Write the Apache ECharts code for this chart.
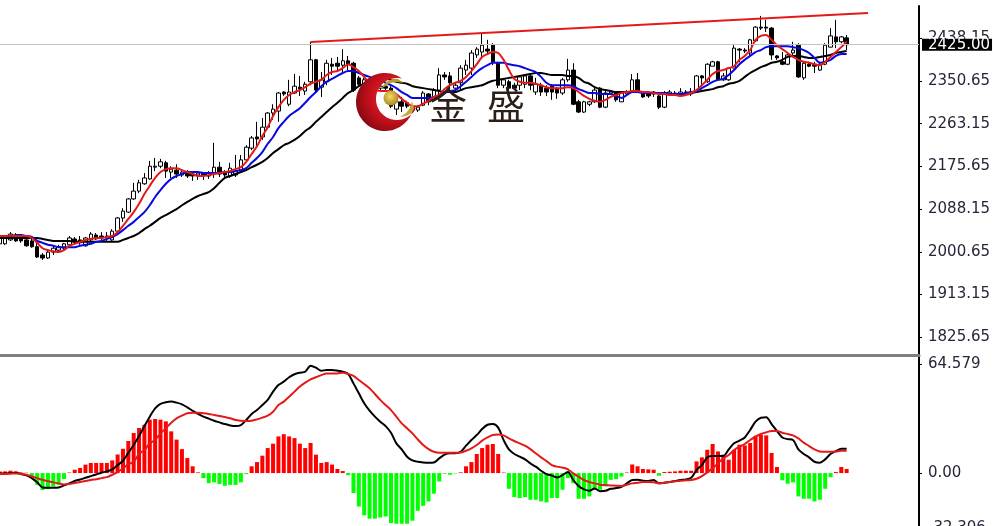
<!DOCTYPE html>
<html><head><meta charset="utf-8">
<style>html,body{margin:0;padding:0;background:#fff;overflow:hidden}#c{width:993px;height:526px}</style>
<script src="https://cdn.jsdelivr.net/npm/echarts@6/dist/echarts.min.js"></script>
</head><body><div id="c"></div>
<script>
const categories = Array.from({length:172},(_,i)=>String(i));
const priceTicks = [1825.65,1913.15,2000.65,2088.15,2175.65,2263.15,2350.65,2438.15];
const macdTicks = [-32.306,0,64.579];
const lastPrice = 2425;
const trendStart = [58,2430.6];
const trendEnd = [162,2490];
// [open, close, low, high]
const candles = [
[2017,2031,2015,2033],[2017,2031,2015,2034],[2025,2037,2023,2041],[2029,2023,2021,2039],[2027,2023,2019,2033],[2025,2013,2011,2029],[2023,2011,2009,2029],[2011,1990,1988,2025],[1994,1988,1984,1998],[1988,2000,1986,2004],
[2000,2008,1994,2013],[2004,2011,2002,2015],[2008,2017,2004,2019],[2015,2029,2013,2033],[2027,2021,2019,2031],[2025,2019,2015,2033],[2013,2029,2011,2031],[2025,2037,2023,2041],[2035,2027,2025,2039],[2033,2029,2025,2041],
[2029,2033,2023,2041],[2025,2043,2023,2047],[2043,2070,2039,2072],[2070,2084,2062,2090],[2082,2109,2080,2111],[2109,2125,2107,2142],[2125,2142,2121,2148],[2140,2152,2138,2162],[2150,2176,2148,2187],[2174,2176,2166,2193],
[2176,2185,2172,2191],[2183,2166,2152,2187],[2164,2170,2152,2176],[2168,2160,2152,2180],[2158,2164,2154,2168],[2164,2156,2152,2168],[2160,2156,2146,2164],[2158,2162,2148,2166],[2162,2158,2148,2164],[2156,2162,2150,2166],
[2162,2174,2152,2224],[2174,2160,2154,2185],[2162,2158,2154,2168],[2156,2172,2152,2183],[2158,2166,2154,2199],[2166,2189,2162,2199],[2189,2215,2185,2219],[2213,2234,2209,2238],[2236,2232,2217,2267],[2236,2256,2230,2275],
[2256,2285,2252,2287],[2285,2293,2271,2303],[2289,2326,2267,2328],[2328,2324,2320,2330],[2303,2328,2299,2353],[2326,2340,2324,2365],[2338,2334,2320,2361],[2330,2344,2322,2349],[2349,2394,2342,2431],[2394,2332,2328,2396],
[2338,2353,2318,2369],[2349,2387,2342,2394],[2385,2381,2363,2398],[2387,2381,2369,2400],[2383,2392,2369,2416],[2392,2385,2373,2402],[2387,2332,2328,2390],[2357,2344,2340,2361],[2340,2353,2336,2357],[2347,2338,2334,2351],
[2344,2334,2328,2349],[2336,2340,2328,2344],[2340,2336,2330,2344],[2336,2299,2295,2340],[2293,2308,2281,2314],[2308,2299,2287,2318],[2306,2299,2295,2310],[2291,2297,2287,2301],[2291,2297,2287,2301],[2301,2326,2299,2330],
[2324,2308,2301,2326],[2312,2332,2308,2336],[2332,2363,2312,2377],[2363,2359,2353,2369],[2361,2347,2332,2369],[2336,2342,2332,2347],[2347,2377,2332,2383],[2373,2383,2363,2394],[2377,2408,2363,2414],[2404,2416,2398,2420],
[2410,2424,2398,2449],[2416,2412,2404,2435],[2424,2390,2383,2428],[2387,2342,2336,2390],[2342,2353,2336,2357],[2349,2336,2332,2353],[2342,2336,2332,2347],[2342,2359,2332,2363],[2344,2361,2336,2365],[2361,2342,2332,2365],
[2328,2344,2322,2357],[2342,2328,2320,2347],[2336,2328,2320,2342],[2340,2328,2312,2344],[2334,2326,2314,2338],[2326,2353,2322,2357],[2353,2373,2349,2396],[2373,2303,2301,2387],[2308,2287,2285,2312],[2287,2308,2285,2310],
[2303,2308,2299,2310],[2308,2332,2306,2338],[2336,2297,2295,2338],[2297,2326,2295,2332],[2326,2330,2322,2332],[2326,2312,2308,2330],[2308,2326,2308,2328],[2324,2328,2320,2332],[2328,2353,2326,2365],[2353,2328,2326,2367],
[2328,2318,2316,2330],[2324,2320,2316,2330],[2324,2328,2318,2330],[2320,2297,2293,2328],[2297,2326,2295,2330],[2324,2328,2322,2332],[2326,2322,2320,2330],[2324,2328,2318,2336],[2328,2324,2320,2332],[2324,2328,2320,2336],
[2328,2361,2326,2363],[2361,2357,2342,2363],[2349,2385,2347,2387],[2381,2390,2381,2392],[2390,2353,2351,2392],[2353,2361,2351,2367],[2353,2377,2351,2377],[2377,2418,2377,2424],[2416,2414,2389,2418],[2414,2412,2408,2418],
[2408,2435,2400,2437],[2433,2461,2431,2463],[2461,2459,2455,2484],[2461,2459,2451,2476],[2459,2404,2394,2461],[2402,2398,2394,2404],[2390,2385,2383,2410],[2385,2404,2383,2406],[2408,2414,2404,2431],[2424,2359,2357,2428],
[2357,2387,2353,2390],[2385,2381,2379,2390],[2385,2381,2367,2390],[2373,2385,2371,2390],[2385,2424,2383,2428],[2420,2443,2420,2459],[2441,2431,2418,2476],[2431,2441,2428,2443],[2439,2425,2414,2445]
];
const maRed = [2033,2033,2034,2033,2033,2033,2029,2019,2008,2004,2002,2000,2004,2013,2017,2021,2025,2027,2029,2029,
2031,2033,2041,2054,2068,2082,2099,2119,2136,2152,2164,2170,2172,2172,2168,2164,2160,2156,2156,2158,
2160,2162,2164,2166,2170,2174,2185,2201,2217,2238,2256,2279,2297,2312,2322,2328,2332,2338,2345,2349,
2353,2363,2369,2371,2377,2385,2379,2371,2359,2345,2334,2330,2330,2330,2324,2314,2306,2299,2299,2304,
2310,2318,2322,2334,2342,2347,2351,2359,2371,2385,2400,2406,2410,2408,2394,2373,2355,2349,2347,2347,
2345,2342,2338,2336,2336,2336,2338,2336,2328,2320,2314,2310,2308,2312,2318,2322,2326,2328,2330,2330,
2328,2328,2326,2324,2324,2322,2322,2320,2322,2326,2332,2342,2353,2365,2371,2373,2377,2381,2394,2402,
2414,2435,2443,2445,2435,2424,2416,2408,2400,2394,2390,2388,2385,2383,2390,2400,2410,2420,2431];
const maBlue = [2033,2033,2033,2035,2035,2033,2031,2023,2019,2015,2013,2010,2010,2010,2010,2013,2015,2017,2021,2023,
2027,2031,2037,2045,2054,2062,2072,2082,2096,2113,2127,2140,2150,2156,2160,2164,2164,2164,2162,2162,
2162,2162,2164,2164,2166,2168,2172,2183,2193,2205,2222,2236,2254,2267,2279,2287,2295,2306,2318,2328,
2340,2349,2355,2361,2367,2371,2371,2367,2363,2359,2355,2351,2347,2342,2336,2328,2322,2316,2316,2316,
2316,2318,2322,2326,2330,2332,2340,2349,2359,2369,2377,2383,2388,2388,2388,2385,2383,2381,2377,2373,
2369,2359,2347,2342,2342,2342,2342,2340,2334,2330,2326,2326,2324,2324,2324,2320,2316,2322,2328,2328,
2326,2326,2326,2326,2326,2324,2324,2324,2326,2328,2330,2336,2342,2349,2353,2355,2363,2373,2385,2394,
2402,2410,2414,2420,2422,2422,2422,2422,2420,2418,2414,2408,2398,2388,2390,2394,2402,2406,2406];
const maBlack = [2029,2029,2029,2029,2029,2029,2029,2029,2027,2025,2023,2023,2023,2023,2021,2021,2021,2021,2021,2021,
2021,2021,2021,2025,2029,2033,2039,2047,2054,2062,2070,2076,2082,2088,2096,2103,2109,2115,2119,2123,
2131,2142,2152,2156,2160,2164,2168,2174,2179,2185,2193,2203,2211,2219,2224,2230,2238,2248,2256,2267,
2277,2287,2297,2306,2316,2326,2332,2340,2345,2349,2353,2355,2355,2353,2349,2347,2345,2340,2338,2336,
2334,2332,2330,2328,2328,2328,2332,2336,2338,2340,2342,2347,2351,2353,2355,2357,2359,2361,2363,2365,
2367,2367,2365,2363,2363,2363,2361,2361,2357,2349,2345,2338,2334,2332,2330,2328,2328,2328,2328,2328,
2328,2326,2326,2326,2326,2324,2324,2324,2324,2326,2328,2330,2332,2334,2338,2340,2345,2347,2351,2359,
2367,2373,2379,2383,2388,2390,2394,2400,2402,2402,2400,2398,2398,2400,2402,2404,2408,2410,2412];
const macdBars = [1,1,1.4,1,0.3,0.2,-2.4,-7,-10,-9.5,-8,-7,-3.5,0.3,2,3,5,6,6,6,
6,7.5,11,14.4,19,23.7,26.7,28.6,31.6,32,31.6,30.6,24.7,19.8,14.2,8.9,4,0.4,-3,-6,
-5.5,-6.5,-7.5,-7,-7,-5.5,-0.6,4,6.5,10.3,14.8,17.4,21.7,23,21.7,20.7,17.4,14.8,17.8,10.9,
6,6.5,5,2.4,1.2,-1.2,-11.8,-19.8,-25,-27,-27,-26.3,-25.7,-29.6,-30,-30,-30,-28.2,-22.3,-19.4,
-16.8,-12.2,-5,-0.4,-1,-0.3,0.4,4,6.5,11.3,14.8,16.8,17.2,11.3,0.3,-9.3,-14.2,-14.8,-14.2,-15.8,
-15.8,-16.8,-17.4,-14.8,-14.8,-9.9,-3,-6,-15.2,-15.2,-13.8,-9.9,-9.9,-7.9,-4,-3.6,-2,0.3,5.1,4,
2.4,2.2,2,-1.6,0.6,0.8,1,1.4,1.4,1.4,6.9,9.3,13.8,17.2,12.8,10.9,7.9,13.8,16.8,16.4,
17.8,22.1,22.7,22.3,11.9,3.6,-4.3,-6.3,-5.5,-13.8,-15.2,-15.2,-16.8,-15.8,-9.3,-2.4,0.6,3.6,2.4];
const macdLine = [-0.2,-0.2,0,0.2,-0.6,-1.4,-3,-5.5,-8.5,-8.7,-8.7,-8.5,-7.3,-6.1,-4.7,-3.8,-2.8,-1.8,-0.8,0.2,
1,2.2,4.7,7.3,12,16.6,21.9,27.8,33.4,38.3,40.9,41.9,42.3,41.7,40.7,38.9,36.9,35,33.4,32.2,
31,30,29,28.2,27.8,28.4,31.4,35,37.3,40.3,43.3,48.2,52.1,54.1,56.7,58.5,59.4,60,63.6,62.4,
60.6,61,61,60.6,60,58.7,53.1,47.2,41.3,36.9,33.4,30.4,27.8,23.9,17.6,14,9.7,7.5,6.7,6.3,
6.1,6.3,8.7,10.9,11.7,11.7,12.6,16.2,19.6,22.5,26.1,28.6,29,26.9,19.6,14,11.3,9.7,8.1,5.7,
3.8,1.4,-0.6,-1.4,-2.6,-1.2,0.6,-4.1,-7.7,-9.7,-10.5,-9.1,-10.7,-10.5,-9.3,-8.9,-8.1,-6.1,-4.1,-4,
-4.5,-4.7,-4.1,-6.1,-5.7,-5.3,-4.7,-4.1,-3.8,-2.8,1.8,4.7,9.3,10.1,10.1,10.1,14,17.6,19.2,21.1,
25.5,30.4,32.8,33,29,24.9,21.1,20.1,19.6,14,11.3,9.3,6.7,6.1,8.1,11.3,13,14.4,14.4];
const signalLine = [-0.6,-0.6,-0.4,-0.2,-0.4,-1,-2,-3,-4,-4.9,-5.5,-6.1,-6.7,-6.5,-5.9,-5.3,-4.7,-4.1,-3.6,-3,
-2.4,-1,0.6,2.8,5.1,6.7,11.3,13.6,17.6,19.6,23.5,26.5,29.8,32.4,34,35.4,35.7,35.7,35.4,35,
34.4,33.8,33.2,32.4,31.4,31,30.8,31,31.8,32.8,34,36.3,40.3,42.3,45.2,48.2,51.2,53.5,55.5,56.7,
58,59,58.9,59,59.4,58.7,57.5,55.1,52.7,50.2,46.8,43.3,40.3,37.3,33.4,29.4,26.5,23.5,19.9,16.6,
14.2,12.6,12,12,12,12,12.2,13.2,14.6,16.6,19.2,21.1,22.5,22.9,22.3,20.5,19,17.6,16.2,14.2,
11.7,9.3,7.1,4.7,3.8,3.2,2.2,-0.2,-2.2,-4.1,-5.3,-6.1,-6.9,-7.1,-7.3,-7.5,-7.7,-6.9,-6.1,-5.7,
-5.3,-5.3,-5.5,-6.1,-5.7,-5.3,-4.9,-4.5,-4.3,-4.1,-3.4,-1.8,0.4,2.8,5.7,8.7,10.7,13.6,15.6,17.2,
19.6,21.5,23.1,24.1,24.9,24.9,23.9,23.1,22.3,20.5,18,16,14,12.8,12.6,12.6,12.8,13.2,13.2];

const trend = categories.map((_,i)=> i===trendStart[0]?trendStart[1]:(i===trendEnd[0]?trendEnd[1]:null));
const labelFont = {fontFamily:'DejaVu Sans',fontSize:15,color:'#26263a'};
const lineOf = (name,data,color,w,ax)=>({name,type:'line',data,xAxisIndex:ax,yAxisIndex:ax,symbol:'none',smooth:0.3,lineStyle:{color,width:w},connectNulls:true,silent:true,animation:false});

// logo artwork helpers
function arc(cx,cy,r,a0,a1,n){const p=[];for(let k=0;k<=n;k++){const a=(a0+(a1-a0)*k/n)*Math.PI/180;p.push([cx+r*Math.cos(a),cy+r*Math.sin(a)]);}return p;}
const crescentPts = arc(385,102,29,-54,-350,60).concat(arc(397,99,21,26,284,50));

const chart = echarts.init(document.getElementById('c'),null,{renderer:'canvas'});
chart.setOption({
 animation:false,
 backgroundColor:'#fff',
 grid:[{left:-3,width:922,top:6,height:349,outerBoundsMode:'none'},{left:-3,width:922,top:356,height:174,outerBoundsMode:'none'}],
 xAxis:[
  {type:'category',gridIndex:0,data:categories,axisLabel:{show:false},axisTick:{show:false},splitLine:{show:false},
   axisLine:{show:true,onZero:false,lineStyle:{color:'#808080',width:3}}},
  {type:'category',gridIndex:1,data:categories,axisLabel:{show:false},axisTick:{show:false},splitLine:{show:false},axisLine:{show:false}}
 ],
 yAxis:[
  {type:'value',gridIndex:0,position:'right',min:1789.2,max:2504.3,splitLine:{show:false},
   axisLine:{show:true,lineStyle:{color:'#000',width:2}},
   axisTick:{show:true,customValues:priceTicks,length:3,lineStyle:{color:'#000'}},
   axisLabel:{customValues:priceTicks,margin:9,formatter:v=>v.toFixed(2),...labelFont}},
  {type:'value',gridIndex:1,position:'right',min:-33.7,max:69.3,splitLine:{show:false},
   axisLine:{show:true,lineStyle:{color:'#000',width:2}},
   axisTick:{show:true,customValues:macdTicks,length:3,lineStyle:{color:'#000'}},
   axisLabel:{customValues:macdTicks,margin:9,formatter:v=>v===0?'0.00':String(v),...labelFont}}
 ],
 series:[
  {name:'price',type:'candlestick',xAxisIndex:0,yAxisIndex:0,data:candles,barWidth:4,silent:true,
   itemStyle:{color:'#fff',color0:'#000',borderColor:'#000',borderColor0:'#000',borderWidth:1},
   markLine:{silent:true,symbol:'none',animation:false,precision:2,
    lineStyle:{color:'#c4c4c4',width:1,type:'solid'},
    label:{show:true,position:'end',distance:3,formatter:lastPrice.toFixed(2),backgroundColor:'#000',color:'#fff',
      fontFamily:'DejaVu Sans',fontSize:15,padding:[0,2,-1,6],lineHeight:13},
    data:[{yAxis:lastPrice}]}},
  lineOf('slow',maBlack,'#000',2,0),
  lineOf('mid',maBlue,'#0808e0',2,0),
  lineOf('fast',maRed,'#e41a1a',2,0),
  lineOf('trend',trend,'#e41a1a',2,0),
  {name:'hist',type:'bar',xAxisIndex:1,yAxisIndex:1,data:macdBars,barWidth:4,silent:true,
   itemStyle:{color:p=>p.value>=0?'#ff0000':'#00ff00'}},
  lineOf('macd',macdLine,'#000',2,1),
  lineOf('signal',signalLine,'#e41a1a',2,1)
 ],
 graphic:[
  {type:'polygon',z:100,shape:{points:crescentPts},
   style:{fill:{type:'radial',x:0.62,y:0.42,r:0.75,colorStops:[{offset:0,color:'#f03038'},{offset:0.55,color:'#c4101c'},{offset:1,color:'#70080e'}]}}},
  {type:'polygon',z:101,shape:{points:[[381,89],[386,82],[392,79],[398,79],[404,83],[397,82],[390,83]]},style:{fill:'#b89a30'}},
  {type:'polygon',z:101,shape:{points:[[400,117],[406,113],[410,108],[412,101],[414,108],[412,113],[406,116]]},style:{fill:'#c4a63a'}},
  {type:'circle',z:101,shape:{cx:391,cy:98,r:7.5},
   style:{fill:{type:'radial',x:0.45,y:0.4,r:0.6,colorStops:[{offset:0,color:'#f4dc68'},{offset:1,color:'#a8881e'}]}}},
  {type:'text',z:102,x:429,y:86,style:{text:'金',font:'38px "Noto Sans CJK SC"',fill:'#2c1e18'}},
  {type:'text',z:102,x:487,y:86,style:{text:'盛',font:'38px "Noto Sans CJK SC"',fill:'#2c1e18'}}
 ]
});
</script></body></html>
